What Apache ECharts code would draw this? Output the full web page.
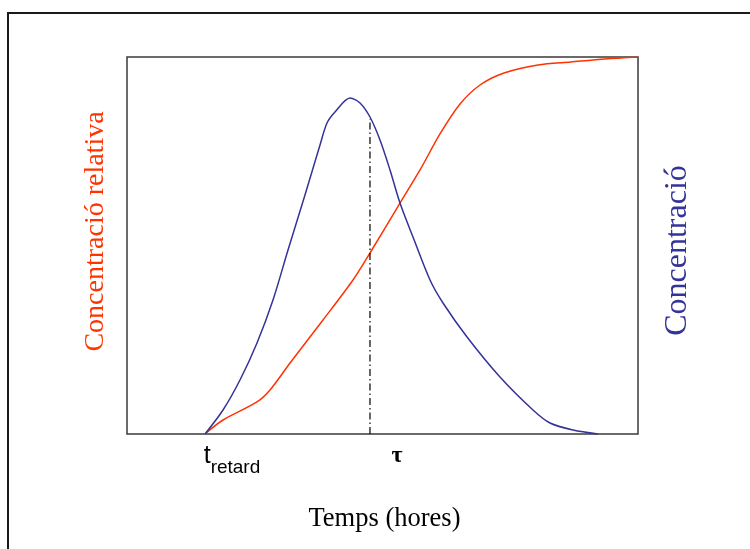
<!DOCTYPE html>
<html>
<head>
<meta charset="utf-8">
<script src="https://cdn.jsdelivr.net/npm/echarts@6/dist/echarts.min.js"></script>
<style>html,body{margin:0;padding:0;background:#fff}#c{width:750px;height:549px}</style>
</head>
<body>
<div id="c"></div>
<script>
// Relative time (0-100) and relative values (0-100)
const relTime = [15.26, 18.79, 25.44, 27.98, 31.90, 38.36, 44.23, 47.55, 53.42, 57.34, 61.25, 65.17, 69.08, 73.78, 80.43, 86.89, 93.54, 100];
const relConc = [0, 3.71, 8.49, 11.67, 18.83, 30.24, 40.85, 48.01, 61.27, 70.03, 79.58, 87.53, 92.57, 95.76, 97.88, 98.67, 99.47, 100];
const concTime = [15.26, 18.79, 22.11, 25.44, 28.57, 31.51, 34.83, 37.77, 39.14, 40.70, 43.64, 45.60, 47.55, 49.51, 51.47, 53.42, 55.97, 59.30, 61.84, 66.54, 72.99, 79.45, 82.78, 87.28, 92.17];
const conc = [0, 6.37, 14.32, 24.14, 35.54, 48.81, 63.40, 76.66, 82.49, 85.41, 89.12, 87.80, 84.08, 77.98, 70.03, 61.27, 52.25, 40.85, 34.75, 25.73, 15.12, 6.37, 2.92, 1.06, 0];
const tRetard = 15.26;
const tau = 47.55;
const tauLineTop = 83.55;

const zip = (a, b) => a.map((v, i) => [v, b[i]]);
const serif = 'Liberation Serif, Times New Roman, serif';
const chart = echarts.init(document.getElementById('c'), null, {renderer: 'canvas'});
chart.setOption({
  animation: false,
  backgroundColor: '#fff',
  graphic: [{
    type: 'rect', shape: {x: 8, y: 13, width: 800, height: 600},
    style: {fill: 'none', stroke: '#1a1a1a', lineWidth: 2}, silent: true, z: -1
  }],
  grid: {left: 127, right: 112, top: 57, bottom: 115, show: true, borderColor: '#3a3a3a', borderWidth: 1.5},
  xAxis: {
    type: 'value', min: 0, max: 100,
    name: 'Temps (hores)', nameLocation: 'middle', nameGap: 72,
    nameTextStyle: {fontFamily: serif, fontSize: 26.5, color: '#000', padding: [0, 0, 0, 4]},
    axisLine: {show: false}, axisTick: {show: false}, splitLine: {show: false},
    axisLabel: {
      customValues: [tRetard, tau],
      margin: 10,
      padding: [0, 0, 0, 54],
      formatter: v => (Math.abs(v - tRetard) < 0.01 ? '{t|t}{sub|retard}' : '{tau|τ}'),
      rich: {
        t: {fontFamily: 'Liberation Sans, Arial, sans-serif', fontSize: 25, color: '#000', verticalAlign: 'bottom'},
        sub: {fontFamily: 'Liberation Sans, Arial, sans-serif', fontSize: 19, color: '#000', verticalAlign: 'bottom', padding: [0, 0, -8, 0]},
        tau: {fontFamily: serif, fontSize: 24, fontWeight: 'bold', color: '#000'}
      }
    }
  },
  yAxis: [{
    type: 'value', min: 0, max: 100,
    name: 'Concentració relativa', nameLocation: 'middle', nameGap: 17, nameRotate: 90,
    nameTextStyle: {fontFamily: serif, fontSize: 28, color: '#FF3300', padding: [0, 0, 0, 28]},
    axisLine: {show: false}, axisTick: {show: false}, axisLabel: {show: false}, splitLine: {show: false}
  }, {
    type: 'value', min: 0, max: 100, position: 'right',
    name: 'Concentració', nameLocation: 'middle', nameGap: 24, nameRotate: 90,
    nameTextStyle: {fontFamily: serif, fontSize: 32, color: '#333399', padding: [0, 10, 0, 0]},
    axisLine: {show: false}, axisTick: {show: false}, axisLabel: {show: false}, splitLine: {show: false}
  }],
  series: [{
    type: 'line', yAxisIndex: 0, data: zip(relTime, relConc), showSymbol: false, symbol: 'none',
    smooth: 0.3,
    lineStyle: {color: '#FF3300', width: 1.5}
  }, {
    type: 'line', yAxisIndex: 1, data: zip(concTime, conc), showSymbol: false, symbol: 'none',
    smooth: 0.3,
    lineStyle: {color: '#333399', width: 1.5}
  }, {
    type: 'line', yAxisIndex: 0, data: [[tau, 0], [tau, tauLineTop]], showSymbol: false, symbol: 'none',
    lineStyle: {color: '#000', width: 1.2, type: [7, 3, 1.5, 3]}
  }]
});
</script>
</body>
</html>
